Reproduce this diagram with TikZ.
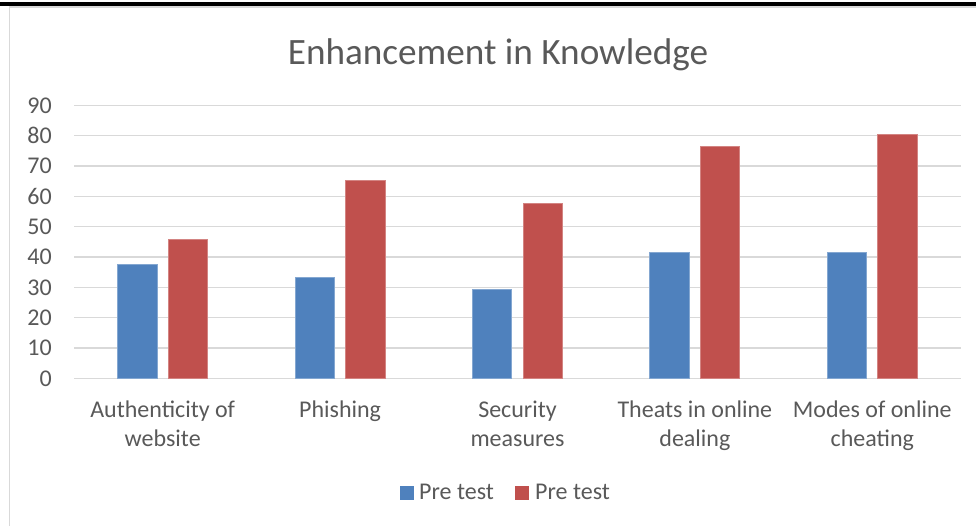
\documentclass[tikz,border=0pt]{standalone}
\usepackage{fontspec}
\setmainfont{Carlito}
\definecolor{serA}{HTML}{4F81BD}
\definecolor{serB}{HTML}{C0504D}
\definecolor{axistext}{HTML}{595959}
\definecolor{gridgray}{HTML}{D9D9D9}
\begin{document}
\begin{tikzpicture}[x=1pt,y=-1pt,
  lbl/.style={font=\fontsize{24}{29}\selectfont, text=axistext, inner sep=0pt},
  catlbl/.style={lbl, align=center, anchor=north},
  tick/.style={lbl, anchor=base east},
  barA/.style={fill=serA, draw=serA!70!white, line width=0.6pt},
  barB/.style={fill=serB, draw=serB!70!white, line width=0.6pt},
  grid/.style={draw=gridgray, line width=1.2pt}]
\useasboundingbox (0,0) rectangle (976,526);
% page rule and chart frame
\fill[black] (0,2) rectangle (976,6.5);
\draw[gridgray, line width=1.6pt] (9.5,526) -- (9.5,7.3) -- (976,7.3);
% title
\node[lbl, font=\fontsize{37.2}{40}\selectfont, anchor=base] (title) at (498,65) {Enhancement in Knowledge};
% gridlines and tick labels
\foreach \v in {0,10,...,90}{
  \pgfmathsetmacro{\yy}{378.3-3.0333*\v}
  \draw[grid] (74,\yy) -- (961,\yy);
  \node[tick] (tick\v) at (52,\yy+8) {\v};
}
% bars: category centre, pre value, post value
\foreach \c/\a/\b [count=\i] in {162.7/37.5/45.8, 340.1/33.3/65.3, 517.5/29.2/57.6, 694.9/41.7/76.6, 872.3/41.7/80.6}{
  \draw[barA] (\c-45.3,378.3) rectangle (\c-5.8,378.3-3.0333*\a);
  \draw[barB] (\c+5.3,378.3) rectangle (\c+44.8,378.3-3.0333*\b);
}
% category labels (first baseline at 417)
\node[catlbl] (c1) at (162.7,397) {\strut Authenticity of\\\strut website};
\node[catlbl] (c2) at (340.1,397) {\strut Phishing};
\node[catlbl] (c3) at (517.5,397) {\strut Security\\\strut measures};
\node[catlbl] (c4) at (694.9,397) {\strut Theats in online\\\strut dealing};
\node[catlbl] (c5) at (872.3,397) {\strut Modes of online\\\strut cheating};
% legend
\fill[serA] (400,486) rectangle (414,500);
\node[lbl, anchor=base west] (legA) at (419,499.3) {Pre test};
\fill[serB] (515,486) rectangle (529,500);
\node[lbl, anchor=base west] (legB) at (535,499.3) {Pre test};
\end{tikzpicture}
\end{document}
